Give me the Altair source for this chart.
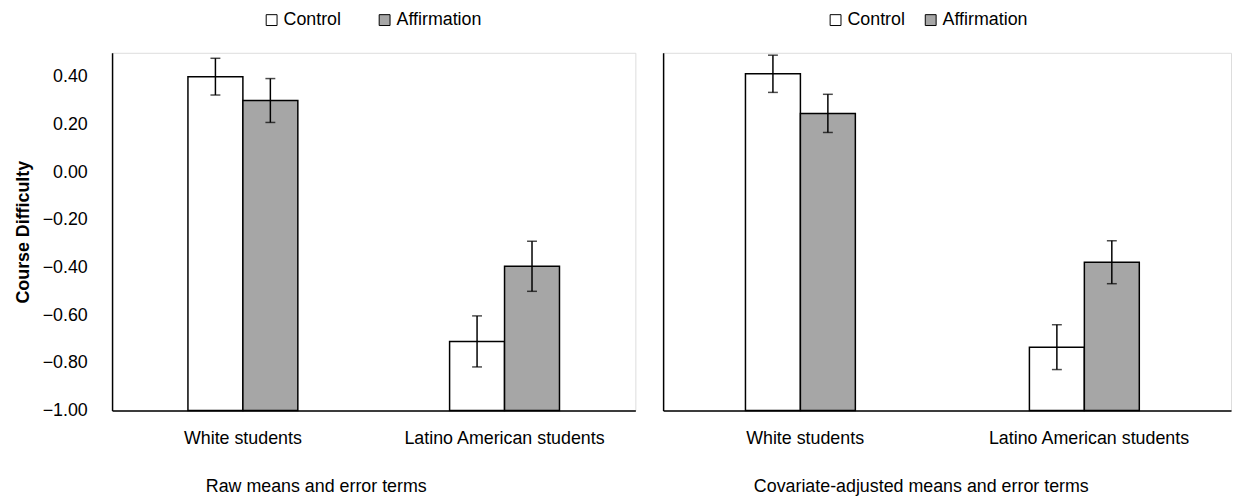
import altair as alt
import pandas as pd

groups = ["White students", "Latino American students"]
conditions = ["Control", "Affirmation"]

# order: White-Control, White-Affirmation, Latino-Control, Latino-Affirmation
raw_means = [0.40, 0.30, -0.71, -0.395]
raw_errs = [0.077, 0.092, 0.107, 0.105]
adj_means = [0.412, 0.246, -0.734, -0.378]
adj_errs = [0.078, 0.080, 0.094, 0.090]

y_ticks = [-1.0, -0.8, -0.6, -0.4, -0.2, 0.0, 0.2, 0.4]

FONT = "Liberation Sans"


def make_df(means, errs):
    rows = []
    i = 0
    for g in groups:
        for c in conditions:
            rows.append({"group": g, "condition": c, "value": means[i],
                         "lo": means[i] - errs[i], "hi": means[i] + errs[i]})
            i += 1
    return pd.DataFrame(rows)


def panel(df, width, show_y, title, dx, legend_x, col_pad):
    x = alt.X("group:N", sort=groups,
              scale=alt.Scale(domain=groups, paddingInner=0.58, paddingOuter=0.29),
              axis=alt.Axis(title=None, labelAngle=0, ticks=False, labelPadding=19,
                            labelFontSize=18, labelColor="black", labelLimit=0,
                            domainColor="black", domainWidth=1.5))
    xoff = alt.XOffset("condition:N", sort=conditions,
                       scale=alt.Scale(domain=conditions, paddingInner=0, paddingOuter=0))
    if show_y:
        yaxis = alt.Axis(values=y_ticks, format=".2f", grid=False, ticks=False,
                         labelFontSize=18, labelColor="black", labelPadding=25,
                         title="Course Difficulty", titleFontSize=18, titleFontWeight="bold",
                         titleColor="black", titlePadding=10,
                         domainColor="black", domainWidth=1.5)
    else:
        yaxis = alt.Axis(values=y_ticks, grid=False, ticks=False, labels=False, title=None,
                         domainColor="black", domainWidth=1.5)
    yscale = alt.Scale(domain=[-1.0, 0.5], nice=False, zero=False)

    base = alt.Chart(df)
    bars = base.mark_bar(stroke="black", strokeWidth=1.5).encode(
        x=x, xOffset=xoff,
        y=alt.Y("value:Q", scale=yscale, axis=yaxis),
        y2=alt.datum(-1.0),
        color=alt.Color("condition:N", sort=conditions,
                        scale=alt.Scale(domain=conditions, range=["white", "#a6a6a6"]),
                        legend=alt.Legend(orient="none", legendX=legend_x, legendY=-42,
                                          direction="horizontal", title=None,
                                          symbolType="square", symbolSize=120,
                                          symbolStrokeColor="black", symbolStrokeWidth=1,
                                          labelFontSize=18, labelColor="black",
                                          labelOffset=3, columnPadding=col_pad)),
    )
    rule = base.mark_rule(color="black", strokeWidth=1.5).encode(
        x=x, xOffset=xoff, y=alt.Y("lo:Q", scale=yscale), y2="hi:Q")
    cap_lo = base.mark_tick(color="black", thickness=1.5, size=10, orient="horizontal").encode(
        x=x, xOffset=xoff, y=alt.Y("lo:Q", scale=yscale))
    cap_hi = base.mark_tick(color="black", thickness=1.5, size=10, orient="horizontal").encode(
        x=x, xOffset=xoff, y=alt.Y("hi:Q", scale=yscale))
    return alt.layer(bars, rule, cap_lo, cap_hi).properties(
        width=width, height=361,
        title=alt.TitleParams(title, orient="bottom", anchor="middle", fontSize=18,
                              fontWeight="normal", color="black", offset=31, dx=dx),
    )


left = panel(make_df(raw_means, raw_errs), 528, True, "Raw means and error terms", -58, 152, 34)
right = panel(make_df(adj_means, adj_errs), 573, False,
              "Covariate-adjusted means and error terms", -26, 165, 16)

chart = alt.hconcat(left, right, spacing=26).resolve_legend(color="independent").properties(
    padding={"left": 5, "top": 0, "right": 0, "bottom": 0}
).configure_view(
    stroke=None
).configure(font=FONT)

chart.save("out.html", embed_options={"renderer": "svg", "actions": False})
